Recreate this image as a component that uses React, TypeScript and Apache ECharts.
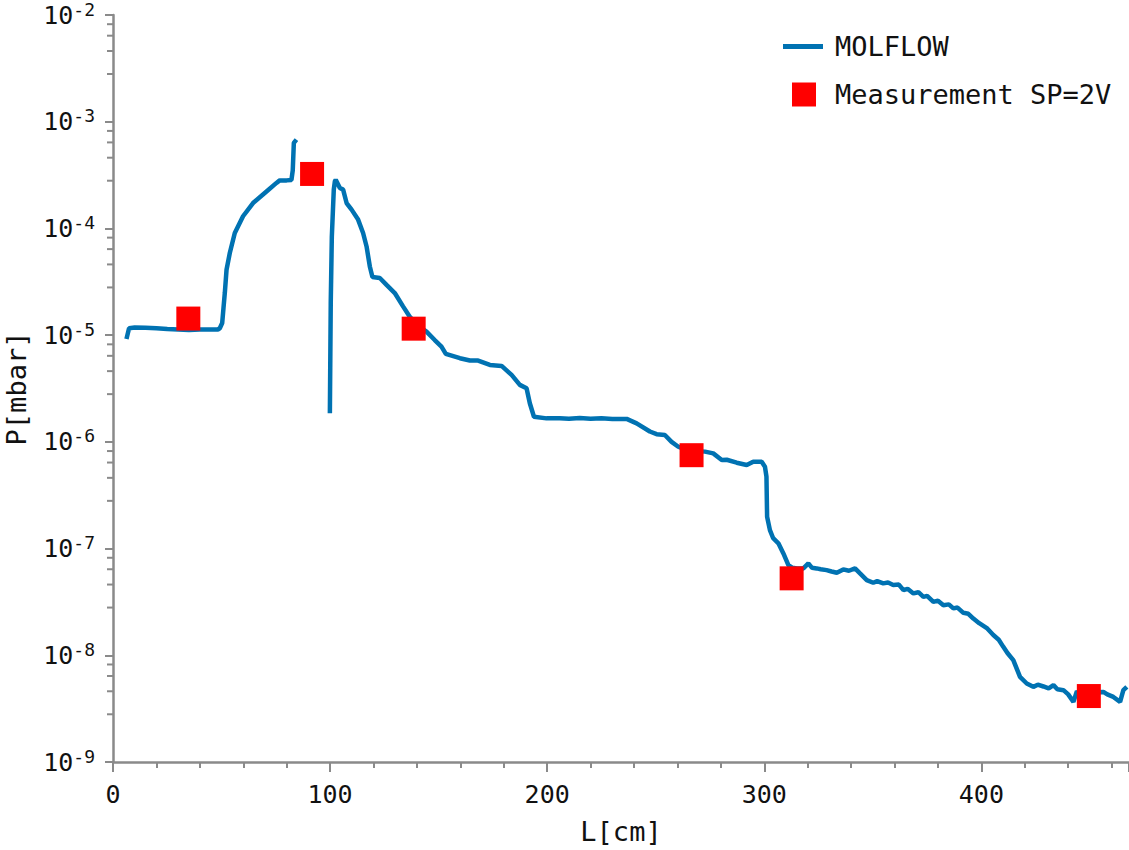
import React, { useEffect, useRef } from "react";
import * as echarts from "echarts";

// MOLFLOW simulation profile (L in cm, P in mbar); "-" marks a gap in the trace
const molflowL: (number)[] = [
  6.2, 7.4, 10, 15, 20, 25, 30, 35, 40, 45, 48.3, 49.2, 50.3, 50.9, 51.5, 52.3, 53.8, 56.1, 59.9, 64.5,
  70.7, 75.3, 76.8, 80, 82.2, 82.8, 83.3, 84.5,
  90,
  99.9, 100.3, 100.8, 101.7, 102.2, 102.6, 104.5, 106.0, 107.6, 109.9, 112.9, 115.2, 116.8, 118.3, 119.5,
  122.9, 126.0, 129.8, 133.6, 136.7, 140, 144.4, 148.2, 151.3, 153.3, 159.8, 164.4, 168.2, 173.6, 179.0,
  183.6, 187.4, 190.5, 192.0, 193.9, 199.7, 205.8, 210, 215, 220, 225, 230, 236.6, 241.2, 247.3, 250.4,
  254.2, 257.3, 260.4, 264, 268, 272.7, 276.5, 280.4, 282.7, 287.3, 291.9, 294.9, 298.8, 300.3, 301.0,
  301.3, 302.6, 304.1, 306.5, 308.8, 311.1, 313, 315, 318.0, 320.3, 322, 324.1, 326, 328.7, 331, 333.4,
  336.4, 339, 341.8, 344.1, 347.2, 350.2, 352, 354.8, 357, 359.4, 362, 364.1, 366, 368.7, 371, 373.3, 375,
  377.9, 380, 382.5, 385, 387.1, 389, 391.7, 394, 396.3, 399, 402.5, 405.5, 408, 410.1, 412, 414.7, 417.8,
  420.9, 423.9, 426, 428.6, 431, 433.2, 435, 437.8, 440, 442.4, 444, 446, 448, 450, 453, 456.2, 458, 460.8,
  463.9, 465.4, 467,
];
const molflowP: (number | string)[] = [
  9.2e-6, 1.16e-5, 1.18e-5, 1.17e-5, 1.16e-5, 1.14e-5, 1.13e-5, 1.12e-5, 1.13e-5, 1.13e-5, 1.13e-5, 1.16e-5,
  1.3e-5, 1.8e-5, 2.48e-5, 4.1e-5, 5.88e-5, 9.06e-5, 1.3e-4, 1.73e-4,
  2.22e-4, 2.67e-4, 2.82e-4, 2.82e-4, 2.85e-4, 3.5e-4, 6.33e-4, 6.8e-4,
  "-",
  1.85e-6, 2.0e-5, 8.4e-5, 2.31e-4, 2.76e-4, 2.86e-4, 2.39e-4, 2.31e-4, 1.73e-4, 1.5e-4, 1.21e-4, 9.06e-5,
  6.78e-5, 4.4e-5, 3.5e-5,
  3.43e-5, 2.96e-5, 2.48e-5, 1.86e-5, 1.49e-5, 1.25e-5, 1.08e-5, 9.0e-6, 7.8e-6, 6.68e-6, 6.08e-6, 5.78e-6,
  5.78e-6, 5.26e-6, 5.15e-6,
  4.24e-6, 3.42e-6, 3.18e-6, 2.3e-6, 1.72e-6, 1.66e-6, 1.66e-6, 1.65e-6, 1.67e-6, 1.65e-6, 1.66e-6, 1.64e-6,
  1.64e-6, 1.49e-6, 1.25e-6, 1.18e-6,
  1.16e-6, 1.0e-6, 9.0e-7, 8.4e-7, 8.2e-7, 8.1e-7, 7.8e-7, 6.76e-7, 6.8e-7, 6.38e-7, 6.07e-7, 6.52e-7,
  6.52e-7, 5.85e-7, 4.72e-7,
  1.99e-7, 1.49e-7, 1.25e-7, 1.12e-7, 9.0e-8, 7.0e-8, 6.6e-8, 6.5e-8, 6.52e-8, 7.26e-8, 6.6e-8, 6.52e-8,
  6.4e-8, 6.28e-8, 6.1e-8, 5.93e-8,
  6.38e-8, 6.2e-8, 6.52e-8, 5.85e-8, 5.07e-8, 4.78e-8, 4.95e-8, 4.72e-8, 4.8e-8, 4.55e-8, 4.6e-8, 4.08e-8,
  4.2e-8, 3.8e-8, 3.9e-8, 3.53e-8, 3.6e-8,
  3.17e-8, 3.25e-8, 2.95e-8, 3.0e-8, 2.75e-8, 2.8e-8, 2.5e-8, 2.45e-8, 2.21e-8, 2.0e-8, 1.8e-8, 1.55e-8,
  1.4e-8, 1.2e-8, 1.05e-8, 9.0e-9, 6.28e-9,
  5.44e-9, 5.06e-9, 5.3e-9, 5.1e-9, 4.9e-9, 5.25e-9, 4.8e-9, 4.71e-9, 4.3e-9, 3.66e-9, 4.6e-9, 4.2e-9,
  4.5e-9, 4.4e-9, 4.5e-9, 4.54e-9, 4.3e-9, 4.07e-9,
  3.66e-9, 4.71e-9, 5.06e-9,
];

// Measurement points (SP = 2V)
const measL = [34.7, 91.7, 138.5, 266.5, 312.6, 449.5];
const measP = [1.43e-5, 3.24e-4, 1.15e-5, 7.5e-7, 5.26e-8, 4.15e-9];

// Axis definitions
const xTicks = [0, 100, 200, 300, 400];
const yDecades = [-9, -8, -7, -6, -5, -4, -3, -2];
const minorMultipliers = [2.8, 4.6, 6.4, 8.2];

const FONT = "DejaVu Sans Mono";
const AXIS_GRAY = "#8a8a8a";
const BLUE = "#0072B2";
const RED = "#ff0000";

export default function App() {
  const ref = useRef<HTMLDivElement>(null);

  useEffect(() => {
    if (!ref.current) return;
    const chart = echarts.init(ref.current, undefined, { renderer: "svg" });

    const lineData = molflowL.map((l, i) => [l, molflowP[i]]);
    const measData = measL.map((l, i) => [l, measP[i]]);
    const minorData: number[][] = [];
    yDecades.slice(0, -1).forEach((d) => {
      minorMultipliers.forEach((m) => minorData.push([0, m * Math.pow(10, d)]));
    });

    chart.setOption({
      animation: false,
      backgroundColor: "#ffffff",
      grid: {
        left: 113,
        right: 0,
        top: 15,
        bottom: 88,
        containLabel: false,
        outerBoundsMode: "none",
      },
      legend: [
        {
          data: [{ name: "MOLFLOW", icon: "rect", itemStyle: { color: BLUE } }],
          left: 783,
          top: 33,
          padding: 0,
          itemWidth: 40,
          itemHeight: 5,
          textStyle: { fontFamily: FONT, fontSize: 27, color: "#111", padding: [0, 0, 0, 7] },
        },
        {
          data: [{ name: "Measurement SP=2V", icon: "rect", itemStyle: { color: RED, opacity: 1 } }],
          left: 792,
          top: 81,
          padding: 0,
          itemWidth: 24,
          itemHeight: 24,
          textStyle: { fontFamily: FONT, fontSize: 27, color: "#111", padding: [0, 0, 0, 14] },
        },
      ],
      xAxis: {
        type: "value",
        min: 0,
        max: 468,
        interval: 100,
        name: "L[cm]",
        nameLocation: "middle",
        nameGap: 56,
        nameTextStyle: { fontFamily: FONT, fontSize: 27, color: "#111" },
        axisLine: { show: true, lineStyle: { color: AXIS_GRAY, width: 2.5 } },
        axisTick: { show: true, length: 10, lineStyle: { color: AXIS_GRAY, width: 2 } },
        minorTick: { show: true, splitNumber: 5, length: 6, lineStyle: { color: AXIS_GRAY, width: 2 } },
        splitLine: { show: false },
        axisLabel: {
          fontFamily: FONT,
          fontSize: 25,
          color: "#111",
          margin: 20,
          formatter: (v: number) => (xTicks.includes(v) ? String(v) : ""),
        },
      },
      yAxis: {
        type: "log",
        logBase: 10,
        min: 1e-9,
        max: 1e-2,
        splitNumber: 7,
        name: "P[mbar]",
        nameLocation: "middle",
        nameGap: 83,
        nameTextStyle: { fontFamily: FONT, fontSize: 27, color: "#111" },
        axisLine: { show: true, lineStyle: { color: AXIS_GRAY, width: 2.5 } },
        axisTick: { show: true, length: 8, lineStyle: { color: AXIS_GRAY, width: 2 } },
        splitLine: { show: false },
        axisLabel: {
          margin: 18,
          formatter: (v: number) => {
            const e = Math.round(Math.log10(v));
            return "{b|10}{s|" + e + "}";
          },
          rich: {
            b: { fontFamily: FONT, fontSize: 25, color: "#111", lineHeight: 30 },
            s: { fontFamily: FONT, fontSize: 18, color: "#111", lineHeight: 18, verticalAlign: "top" },
          },
        },
      },
      series: [
        {
          name: "MOLFLOW",
          type: "line",
          data: lineData,
          showSymbol: false,
          symbol: "none",
          connectNulls: false,
          lineStyle: { color: BLUE, width: 4.5 },
          itemStyle: { color: BLUE },
          z: 2,
        },
        {
          name: "Measurement SP=2V",
          type: "scatter",
          data: measData,
          symbol: "rect",
          symbolSize: 24,
          itemStyle: { color: RED, opacity: 1 },
          z: 3,
        },
        {
          name: "minorTicksY",
          type: "custom",
          data: minorData,
          clip: false,
          silent: true,
          encode: { x: 0, y: 1 },
          renderItem: (params: any, api: any) => {
            const p = api.coord([api.value(0), api.value(1)]);
            return {
              type: "line",
              shape: { x1: p[0] - 6, y1: p[1], x2: p[0], y2: p[1] },
              style: { stroke: AXIS_GRAY, lineWidth: 2 },
            };
          },
        },
      ],
    });

    return () => chart.dispose();
  }, []);

  return (
    <div
      ref={ref}
      style={{ position: "fixed", left: 0, top: 0, width: 1129, height: 850, background: "#fff" }}
    />
  );
}
